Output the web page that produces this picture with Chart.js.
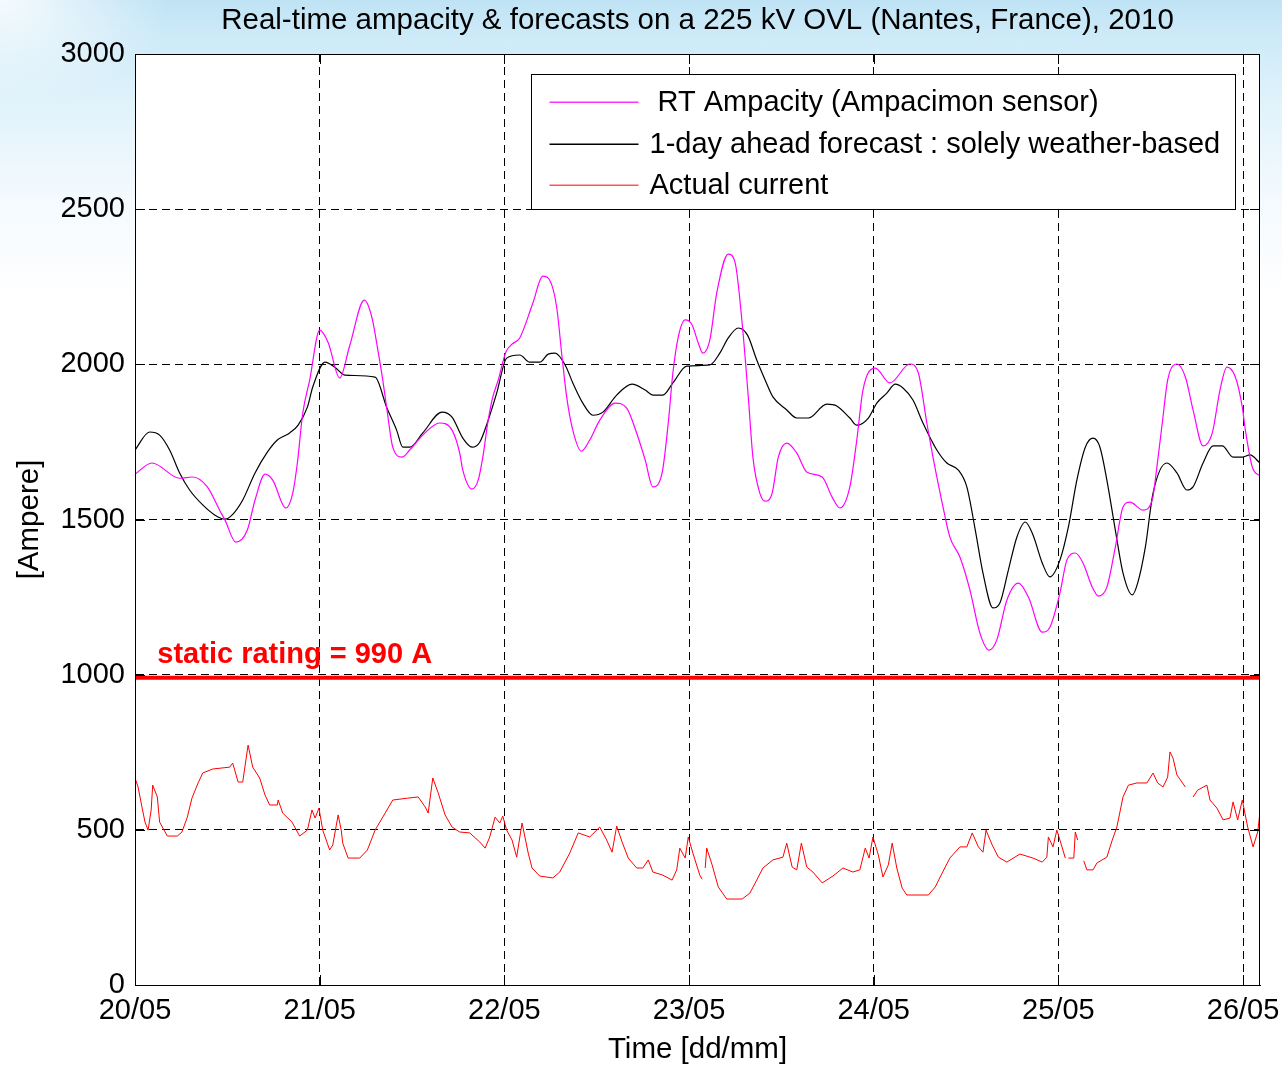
<!DOCTYPE html>
<html>
<head>
<meta charset="utf-8">
<script src="https://cdn.jsdelivr.net/npm/chart.js@4.4.1/dist/chart.umd.min.js"></script>
<style>
html,body{margin:0;padding:0;}
body{width:1282px;height:1066px;overflow:hidden;
background:
 radial-gradient(ellipse 170px 110px at 0 0, rgba(255,255,255,0.85), rgba(255,255,255,0)),
 linear-gradient(180deg,#bfe3f5 0px,#cdeaf8 35px,#e2f3fb 110px,#f4fafe 200px,#ffffff 300px);}
#wrap{position:relative;width:1282px;height:1066px;}
canvas{display:block;}
</style>
</head>
<body>
<div id="wrap"><canvas id="c" width="1282" height="1066"></canvas></div>
<script>
// ---- data (time in hours since 20/05 00:00, values in Ampere) ----
const dayLabels = ['20/05','21/05','22/05','23/05','24/05','25/05','26/05'];
const xMaxHours = 146.2;
const staticRating = 990;

const rtHours = [0,2.2,5.8,7.5,9.4,11.0,11.7,13.1,14.6,15.6,16.9,17.9,19.6,20.5,21.1,21.8,22.7,24.0,25.1,26.6,27.9,29.8,30.8,31.6,32.2,32.7,33.5,34.7,35.7,37.4,39.6,41.2,42.2,42.6,43.8,44.6,45.2,45.9,46.5,47.2,48.2,49.0,50.0,51.7,53.0,53.9,54.8,55.5,56.1,56.8,58.0,59.1,60.4,62.4,63.9,65.2,66.3,67.3,68.5,69.3,69.9,70.6,71.5,72.4,73.2,73.8,74.7,75.6,77.1,78.0,78.9,79.7,80.3,81.2,81.9,82.8,83.6,84.7,86.0,87.3,89.3,90.6,91.6,92.9,93.8,94.6,96.2,98.1,100.7,101.8,102.9,103.7,104.9,105.9,107.2,108.5,109.8,111.0,112.0,113.3,114.8,116.1,117.9,118.9,120.2,121.1,122.2,123.2,124.4,125.2,126.3,127.4,128.4,129.3,131.0,132.2,132.8,133.5,134.2,135.4,136.5,137.5,138.8,140.0,141.0,141.9,143.0,143.9,144.3,145.2,146.2];
const rtAmps = [1646,1682,1633,1637,1605,1530,1498,1427,1466,1563,1646,1627,1537,1585,1682,1843,1949,2110,2070,1956,2060,2207,2150,2040,1949,1862,1733,1701,1724,1772,1811,1788,1714,1659,1598,1627,1701,1820,1895,1949,2040,2065,2085,2197,2284,2271,2184,2023,1895,1798,1720,1756,1820,1875,1859,1778,1692,1605,1650,1811,1972,2088,2143,2127,2069,2036,2078,2230,2355,2326,2133,1895,1701,1585,1559,1585,1701,1746,1714,1653,1637,1572,1537,1605,1756,1917,1988,1940,2001,1972,1811,1701,1553,1443,1379,1273,1134,1079,1112,1240,1295,1250,1137,1153,1263,1369,1392,1360,1282,1253,1282,1411,1540,1556,1530,1563,1669,1811,1949,2001,1959,1853,1737,1779,1917,1991,1959,1862,1788,1669,1640];

const fcHours = [0,1.9,3.2,4.5,5.8,7.1,8.8,10.4,11.7,12.6,14.0,15.6,17.2,18.5,20.1,21.2,22.4,23.1,24.7,26.0,27.3,31.2,32.7,34.0,34.8,35.7,37.4,39.9,41.2,42.6,43.8,44.8,45.9,47.0,48.3,50.0,51.3,52.6,53.7,54.6,55.9,56.9,58.2,59.5,60.8,62.6,64.6,66.3,67.3,68.6,69.9,71.7,74.7,76.0,77.1,78.4,79.6,80.8,81.9,82.9,84.7,86.0,87.5,89.9,91.2,92.9,93.8,95.3,96.4,97.7,98.8,99.8,101.1,102.4,104.2,105.5,107.0,108.1,109.2,110.2,111.5,112.4,113.5,114.6,115.7,116.7,117.9,118.9,120.2,121.3,122.4,123.5,124.5,125.4,126.3,127.4,128.4,129.6,130.3,131.3,132.3,134.1,135.4,136.7,137.5,138.8,140.1,141.3,142.7,143.9,144.9,146.2];
const fcAmps = [1724,1782,1772,1724,1650,1595,1547,1514,1501,1514,1563,1650,1717,1756,1779,1804,1862,1927,2007,1990,1965,1959,1862,1788,1733,1733,1779,1846,1830,1762,1733,1749,1820,1907,2020,2030,2007,2007,2033,2036,1998,1940,1875,1836,1846,1901,1936,1917,1901,1901,1940,1994,1998,2036,2085,2117,2094,2014,1949,1895,1853,1827,1827,1872,1866,1827,1804,1827,1875,1907,1936,1924,1885,1811,1724,1682,1659,1605,1466,1327,1215,1231,1337,1443,1492,1450,1360,1315,1369,1476,1627,1733,1762,1733,1627,1466,1327,1257,1295,1411,1585,1682,1650,1595,1605,1682,1737,1737,1701,1701,1708,1682];

const curHours = [0,0.4,0.9,1.3,1.7,2.1,2.3,2.9,3.2,4.2,5.5,6.1,6.8,7.4,8.2,8.8,10.1,12.3,12.7,13.4,14.0,14.6,14.7,15.3,16.2,16.9,17.5,18.5,18.6,19.2,20.4,21.4,22.4,23.0,23.4,23.9,24.4,25.3,25.7,26.4,26.8,27.0,27.7,29.2,30.2,31.2,32.2,33.5,35.4,36.8,37.7,38.1,38.7,39.4,40.3,41.2,42.2,43.5,44.8,45.5,46.1,46.8,47.4,47.8,48.3,49.0,49.6,50.3,51.1,51.6,52.6,54.3,55.2,56.5,57.6,59.1,60.4,61.3,62.0,62.6,63.3,64.1,65.2,66.0,66.7,67.3,68.6,69.8,70.4,70.8,71.5,71.9,72.5,73.4,73.7,73.9,74.1,74.3,75.0,75.8,76.9,78.9,79.9,80.8,81.6,82.9,84.2,84.7,85.4,86.0,86.6,87.3,88.1,89.3,90.7,92.0,93.3,94.2,94.9,95.4,95.9,96.6,97.2,97.9,98.4,99.0,99.7,100.3,103.1,104.0,104.9,105.9,107.2,108.1,108.8,109.6,110.2,110.6,111.4,112.2,113.3,115.0,116.7,117.9,118.5,118.7,119.3,119.8,120.2,120.9,121.1,121.3,122.0,122.2,122.5,122.9,123.3,123.7,124.5,125.0,126.3,127.0,127.6,128.4,129.1,130.2,131.5,132.3,132.9,133.6,134.2,134.5,134.9,135.4,136.5,137.0,137.5,138.1,139.3,139.7,140.6,141.4,142.3,142.7,143.3,143.9,144.6,145.3,145.9,146.2];
const curAmps = [667,638,574,525,499,564,644,606,525,480,480,493,541,602,651,683,696,702,715,654,654,757,773,702,667,612,580,580,596,554,525,480,499,564,538,570,499,435,451,548,499,457,409,409,435,499,541,596,602,606,574,554,667,619,548,509,493,490,461,441,477,541,522,544,499,467,412,522,425,377,351,345,364,425,490,477,509,467,428,512,461,409,377,377,403,364,354,338,371,441,409,477,425,354,341,null,377,441,387,316,277,277,296,338,377,403,412,457,380,371,457,380,364,329,351,377,364,371,441,409,477,419,348,387,457,377,312,290,290,316,361,409,445,445,490,445,428,499,451,412,396,422,409,396,412,477,445,499,467,409,null,409,409,493,467,null,400,371,371,393,412,467,509,606,644,651,651,683,651,638,670,751,731,677,638,null,606,628,644,596,570,532,538,590,532,596,509,445,493,557];

const seriesLabels = [' RT Ampacity (Ampacimon sensor)','1-day ahead forecast : solely weather-based','Actual current'];
const seriesColors = ['#ff00ff','#000000','#ff0000'];
const legendSampleColors = ['#ff33ff','#000000','#ff5555'];
const staticLabel = 'static rating = 990 A';
const staticLabelHour = 2.9;

// ---- helpers ----
function zip(xs, ys){ const n=Math.min(xs.length, ys.length); const out=[]; for(let i=0;i<n;i++) out.push({x:xs[i], y:ys[i]}); return out; }
const FONT = "'Liberation Sans', Arial, Helvetica, sans-serif";

const framePlugin = {
  id: 'frame',
  beforeDraw(chart){
    const {ctx, chartArea:a} = chart;
    ctx.save(); ctx.fillStyle = '#ffffff';
    ctx.fillRect(a.left, a.top, a.right-a.left, a.bottom-a.top);
    ctx.restore();
  },
  afterDraw(chart){
    const {ctx, chartArea:a, scales} = chart;
    ctx.save();
    ctx.setLineDash([]);
    // frame
    ctx.strokeStyle = '#000'; ctx.lineWidth = 1;
    ctx.strokeRect(Math.round(a.left)+0.5, Math.round(a.top)+0.5, Math.round(a.right-a.left)-1, Math.round(a.bottom-a.top));
    // inward tick marks
    const tl = 10;
    ctx.beginPath();
    scales.x.ticks.forEach(t => { const px = Math.round(scales.x.getPixelForValue(t.value))+0.5;
      ctx.moveTo(px, a.bottom); ctx.lineTo(px, a.bottom-tl); ctx.moveTo(px, a.top); ctx.lineTo(px, a.top+tl); });
    scales.y.ticks.forEach(t => { const py = Math.round(scales.y.getPixelForValue(t.value))+0.5;
      ctx.moveTo(a.left, py); ctx.lineTo(a.left+tl, py); ctx.moveTo(a.right, py); ctx.lineTo(a.right-tl, py); });
    ctx.stroke();

    // static rating label
    ctx.fillStyle = '#ff0000';
    ctx.font = 'bold 29px ' + FONT;
    ctx.textBaseline = 'alphabetic'; ctx.textAlign = 'left';
    ctx.fillText(staticLabel, scales.x.getPixelForValue(staticLabelHour), scales.y.getPixelForValue(staticRating) - 15);

    // legend box
    const bw = 704, bh = 135;
    const bx = Math.round(a.right - 25 - bw) + 0.5, by = Math.round(a.top + 20) + 0.5;
    ctx.fillStyle = '#ffffff'; ctx.fillRect(bx, by, bw, bh);
    ctx.strokeStyle = '#000'; ctx.lineWidth = 1; ctx.strokeRect(bx, by, bw, bh);
    ctx.font = '29px ' + FONT; ctx.textBaseline = 'middle';
    const rows = [27, 69, 110];
    seriesLabels.forEach((lab, i) => {
      const yy = Math.round(by + rows[i]);
      ctx.fillStyle = legendSampleColors[i];
      ctx.fillRect(bx+18, yy-0.5, 89, 1.5);
      ctx.fillStyle = '#000';
      ctx.fillText(lab, bx+118, yy+1);
    });
    ctx.restore();
  }
};

const chart = new Chart(document.getElementById('c'), {
  type: 'line',
  data: {
    datasets: [
      { label: seriesLabels[0], data: zip(rtHours, rtAmps), borderColor: seriesColors[0], borderWidth: 1.2, pointRadius: 0, cubicInterpolationMode: 'monotone' },
      { label: seriesLabels[1], data: zip(fcHours, fcAmps), borderColor: seriesColors[1], borderWidth: 1.2, pointRadius: 0, cubicInterpolationMode: 'monotone' },
      { label: seriesLabels[2], data: zip(curHours, curAmps), borderColor: seriesColors[2], borderWidth: 1, pointRadius: 0, tension: 0, spanGaps: false },
      { label: 'static rating', data: [{x:0, y:staticRating},{x:xMaxHours, y:staticRating}], borderColor: '#ff0000', borderWidth: 4, pointRadius: 0 }
    ]
  },
  options: {
    responsive: false,
    animation: false,
    devicePixelRatio: 1,
    layout: { padding: { left: 0, right: 22, top: 0, bottom: 0 } },
    plugins: {
      legend: { display: false },
      tooltip: { enabled: false },
      title: { display: true, fullSize: false, text: 'Real-time ampacity & forecasts on a 225 kV OVL (Nantes, France), 2010',
        color: '#000', font: { family: FONT, size: 29.5, weight: 'normal' }, padding: { top: 3, bottom: 15.6 } }
    },
    scales: {
      x: {
        type: 'linear', min: 0, max: xMaxHours,
        ticks: { stepSize: 24, includeBounds: false, autoSkip: false, maxRotation: 0, color: '#000', padding: 9,
          font: { family: FONT, size: 29 }, callback: v => dayLabels[Math.round(v/24)] ?? '' },
        grid: { color: '#000', lineWidth: 1, drawTicks: false },
        border: { display: true, color: '#000', width: 1, dash: [8,5] },
        title: { display: true, text: 'Time [dd/mm]', color: '#000', font: { family: FONT, size: 29.5 }, padding: { top: 0, bottom: -2 } },
        afterFit(s){ s.height = 81; s.paddingLeft = 0; s.paddingRight = 0; }
      },
      y: {
        min: 0, max: 3000,
        ticks: { stepSize: 500, color: '#000', padding: 10, font: { family: FONT, size: 29 }, callback: v => String(v) },
        grid: { color: '#000', lineWidth: 1, drawTicks: false },
        border: { display: true, color: '#000', width: 1, dash: [8,5] },
        title: { display: true, text: '[Ampere]', color: '#000', font: { family: FONT, size: 29.5 }, padding: { top: 12, bottom: 0 } },
        afterFit(s){ s.width = 135; s.paddingTop = 0; s.paddingBottom = 0; }
      }
    }
  },
  plugins: [framePlugin]
});
</script>
</body>
</html>
